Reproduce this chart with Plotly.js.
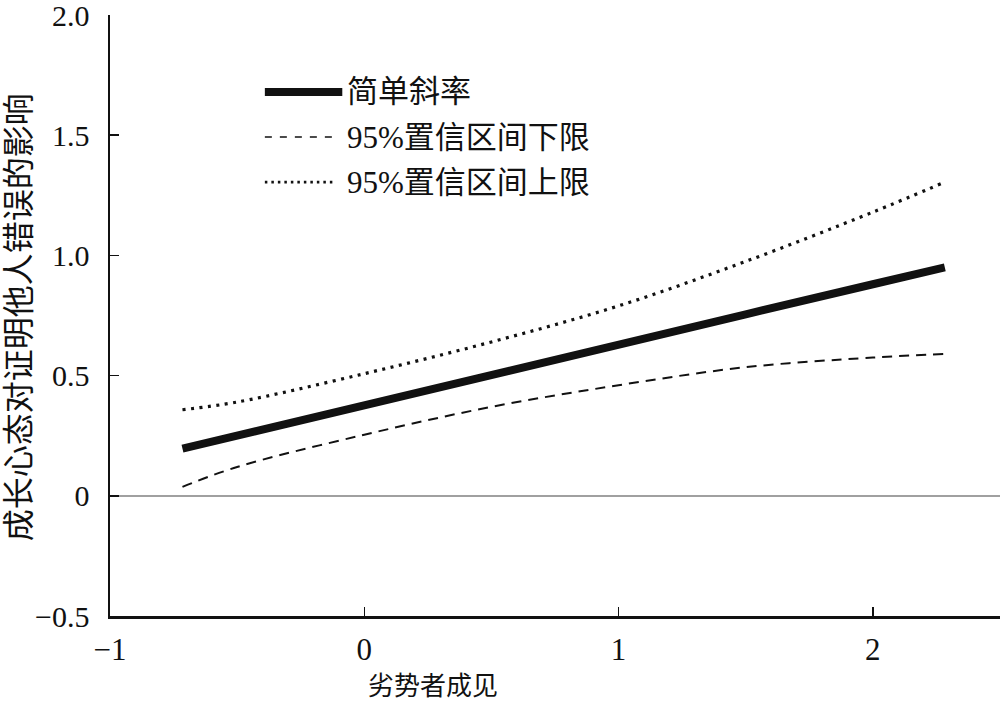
<!DOCTYPE html>
<html>
<head>
<meta charset="utf-8">
<script src="https://cdn.plot.ly/plotly-3.0.1.min.js"></script>
<style>html,body{margin:0;padding:0;background:#fff;}#chart{width:1000px;height:703px;}</style>
</head>
<body>
<div id="chart"></div>
<script>
// Data
var xVals = [-0.715, -0.5, 0, 0.5, 1, 1.5, 2, 2.283];
var simpleSlope = [0.196, 0.251, 0.377, 0.502, 0.630, 0.755, 0.880, 0.950];
var lowerCI = [0.037, 0.12, 0.254, 0.37, 0.46, 0.535, 0.575, 0.59];
var upperCI = [0.358, 0.39, 0.508, 0.64, 0.79, 0.975, 1.18, 1.305];

var seriesNames = ['简单斜率', '95%置信区间下限', '95%置信区间上限'];
var xTickVals = [-1, 0, 1, 2];
var xTickText = ['\u22121', '0', '1', '2'];
var yTickVals = [-0.5, 0, 0.5, 1.0, 1.5, 2.0];
var yTickText = ['\u22120.5', '0', '0.5', '1.0', '1.5', '2.0'];
var xTitle = '劣势者成见';
var yTitle = '成长心态对证明他人错误的影响';

var FONT = "Liberation Serif, Times New Roman, Noto Sans CJK SC, serif";

var traces = [
  {x: xVals, y: lowerCI, mode: 'lines', name: seriesNames[1], line: {color: '#111', width: 2, dash: '10px,7px', shape: 'spline'}, showlegend: false},
  {x: xVals, y: upperCI, mode: 'lines', name: seriesNames[2], line: {color: '#111', width: 3.2, dash: '3px,5.5px', shape: 'spline'}, showlegend: false},
  {x: xVals, y: simpleSlope, mode: 'lines', name: seriesNames[0], line: {color: '#111', width: 8}, showlegend: false}
];

// Manual legend (paper coordinates)
var legRowsY = [0.872, 0.797, 0.722];
var legStyles = [
  {width: 8, dash: 'solid', x1: 0.261},
  {width: 1.6, dash: '7px,8px', x1: 0.257},
  {width: 2.6, dash: '2.5px,4px', x1: 0.250}
];
var shapes = [];
var annotations = [];
for (var i = 0; i < 3; i++) {
  shapes.push({type: 'line', xref: 'paper', yref: 'paper', x0: 0.174, x1: legStyles[i].x1, y0: legRowsY[i], y1: legRowsY[i],
    line: {color: '#111', width: legStyles[i].width, dash: legStyles[i].dash}});
  annotations.push({xref: 'paper', yref: 'paper', x: 0.264, y: legRowsY[i], xanchor: 'left', yanchor: 'middle',
    text: seriesNames[i], showarrow: false, font: {family: FONT, size: 31, color: '#111'}});
}
annotations.push({xref: 'paper', yref: 'paper', x: 0.363, y: -0.118, xanchor: 'center', yanchor: 'middle',
  text: xTitle, showarrow: false, font: {family: FONT, size: 26, color: '#111'}});
annotations.push({xref: 'paper', yref: 'paper', x: -0.1022, y: 0.497, xanchor: 'center', yanchor: 'middle',
  text: yTitle, textangle: -90, showarrow: false, font: {family: FONT, size: 32, color: '#111'}});

var layout = {
  width: 1000, height: 703,
  margin: {l: 110, r: 0, t: 15, b: 87},
  paper_bgcolor: '#fff', plot_bgcolor: '#fff',
  font: {family: FONT, size: 30, color: '#111'},
  xaxis: {
    range: [-1, 2.5], tickvals: xTickVals, ticktext: xTickText,
    showgrid: false, zeroline: false, showline: true, linecolor: '#111', linewidth: 2.5,
    ticks: 'inside', ticklen: 9, tickwidth: 1.5, tickcolor: '#111', ticklabelstandoff: 4,
    ticklabeloverflow: 'allow',
    tickfont: {family: FONT, size: 31, color: '#111'}
  },
  yaxis: {
    range: [-0.5, 2.0], tickvals: yTickVals, ticktext: yTickText,
    showgrid: false, zeroline: true, zerolinecolor: '#a0a0a0', zerolinewidth: 2,
    showline: true, linecolor: '#111', linewidth: 2.5,
    ticks: 'inside', ticklen: 9, tickwidth: 1.5, tickcolor: '#111', ticklabelstandoff: 12,
    ticklabeloverflow: 'allow',
    tickfont: {family: FONT, size: 30, color: '#111'}
  },
  shapes: shapes,
  annotations: annotations,
  showlegend: false
};

Plotly.newPlot('chart', traces, layout, {displayModeBar: false, staticPlot: true});
</script>
</body>
</html>
